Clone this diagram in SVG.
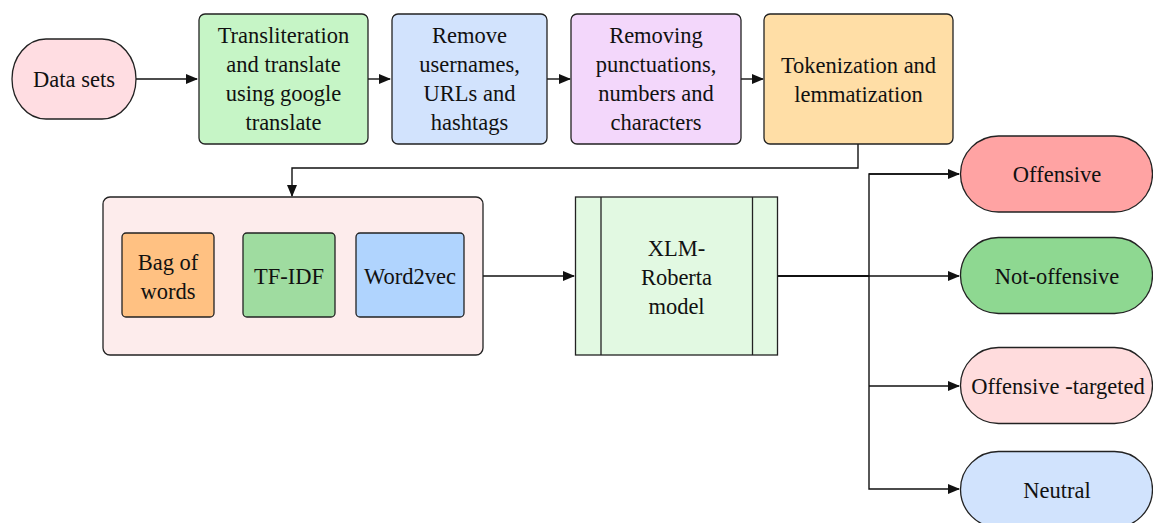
<svg xmlns="http://www.w3.org/2000/svg" width="1153" height="523" viewBox="0 0 1153 523" font-family="Liberation Serif">
<defs>
<style>
.n{stroke:#222;stroke-width:1.3}
.t{font-size:22.5px;fill:#111;text-anchor:middle}
.c{fill:none;stroke:#111;stroke-width:1.4}
</style>
<marker id="ah" markerWidth="12" markerHeight="10" refX="11" refY="5" orient="auto" markerUnits="userSpaceOnUse">
<path d="M0,0 L12,5 L0,10 Z" fill="#111"/>
</marker>
</defs>
<rect width="1153" height="523" fill="#ffffff"/>
<g id="connectors">
<path class="c" d="M136,79 H197" marker-end="url(#ah)"/>
<path class="c" d="M368,79 H390" marker-end="url(#ah)"/>
<path class="c" d="M547,79 H570" marker-end="url(#ah)"/>
<path class="c" d="M741,79 H763" marker-end="url(#ah)"/>
<path class="c" d="M858,144 V168 H292 V196" marker-end="url(#ah)"/>
<path class="c" d="M483,276 H574" marker-end="url(#ah)"/>
<path class="c" d="M778,276 H869" style="stroke-width:2"/>
<path class="c" d="M869,276 H959" marker-end="url(#ah)"/>
<path class="c" d="M959,174 H869 V489 H959" marker-end="url(#ah)"/>
<path class="c" d="M869,386 H959" marker-end="url(#ah)"/>
<path class="c" d="M869,174 H959" marker-end="url(#ah)"/>
</g>
<g id="data-sets">
<rect class="n" x="12" y="39" width="124" height="80" rx="34" ry="40" fill="#ffdde2"/>
<text class="t" x="74" y="87">Data sets</text>
</g>
<g id="transliteration">
<rect class="n" x="199" y="14" width="169" height="130" rx="6" fill="#c6f5c6"/>
<text class="t" x="283.5" y="43">Transliteration</text>
<text class="t" x="283.5" y="72">and translate</text>
<text class="t" x="283.5" y="101">using google</text>
<text class="t" x="283.5" y="130">translate</text>
</g>
<g id="remove">
<rect class="n" x="392" y="14" width="155" height="130" rx="6" fill="#d2e3fd"/>
<text class="t" x="469.5" y="43">Remove</text>
<text class="t" x="469.5" y="72">usernames,</text>
<text class="t" x="469.5" y="101">URLs and</text>
<text class="t" x="469.5" y="130">hashtags</text>
</g>
<g id="removing">
<rect class="n" x="571" y="14" width="170" height="130" rx="6" fill="#f3d7fb"/>
<text class="t" x="656" y="43">Removing</text>
<text class="t" x="656" y="72">punctuations,</text>
<text class="t" x="656" y="101">numbers and</text>
<text class="t" x="656" y="130">characters</text>
</g>
<g id="tokenization">
<rect class="n" x="764" y="14" width="189" height="130" rx="6" fill="#ffdea6"/>
<text class="t" x="858.5" y="73">Tokenization and</text>
<text class="t" x="858.5" y="102">lemmatization</text>
</g>
<g id="features">
<rect class="n" x="103" y="197" width="380" height="158" rx="7" fill="#fdecec"/>
</g>
<g id="bag-of-words">
<rect class="n" x="122" y="233" width="92" height="84" rx="4" fill="#ffc182"/>
<text class="t" x="168" y="270">Bag of</text>
<text class="t" x="168" y="299">words</text>
</g>
<g id="tf-idf">
<rect class="n" x="243" y="233" width="92" height="84" rx="4" fill="#9fdca0"/>
<text class="t" x="289" y="284">TF-IDF</text>
</g>
<g id="word2vec">
<rect class="n" x="356" y="233" width="108" height="84" rx="4" fill="#b0d4fe"/>
<text class="t" x="410" y="284">Word2vec</text>
</g>
<g id="xlm-roberta">
<rect class="n" x="575.5" y="197" width="202" height="158" fill="#e2f9e2"/>
<line class="n" x1="601" y1="197" x2="601" y2="355"/>
<line class="n" x1="752.5" y1="197" x2="752.5" y2="355"/>
<text class="t" x="676.5" y="256">XLM-</text>
<text class="t" x="676.5" y="285">Roberta</text>
<text class="t" x="676.5" y="314">model</text>
</g>
<g id="offensive">
<rect class="n" x="960.5" y="136" width="192" height="76" rx="38" fill="#ffa3a3"/>
<text class="t" x="1057" y="182">Offensive</text>
</g>
<g id="not-offensive">
<rect class="n" x="960.5" y="237.5" width="192" height="76" rx="38" fill="#8ed891"/>
<text class="t" x="1057" y="284">Not-offensive</text>
</g>
<g id="offensive-targeted">
<rect class="n" x="960.5" y="347.5" width="192" height="76" rx="38" fill="#ffdcdd"/>
<text class="t" x="1058" y="394">Offensive -targeted</text>
</g>
<g id="neutral">
<rect class="n" x="960.5" y="451.5" width="192" height="76" rx="38" fill="#d1e3fd"/>
<text class="t" x="1057" y="498">Neutral</text>
</g>
</svg>
